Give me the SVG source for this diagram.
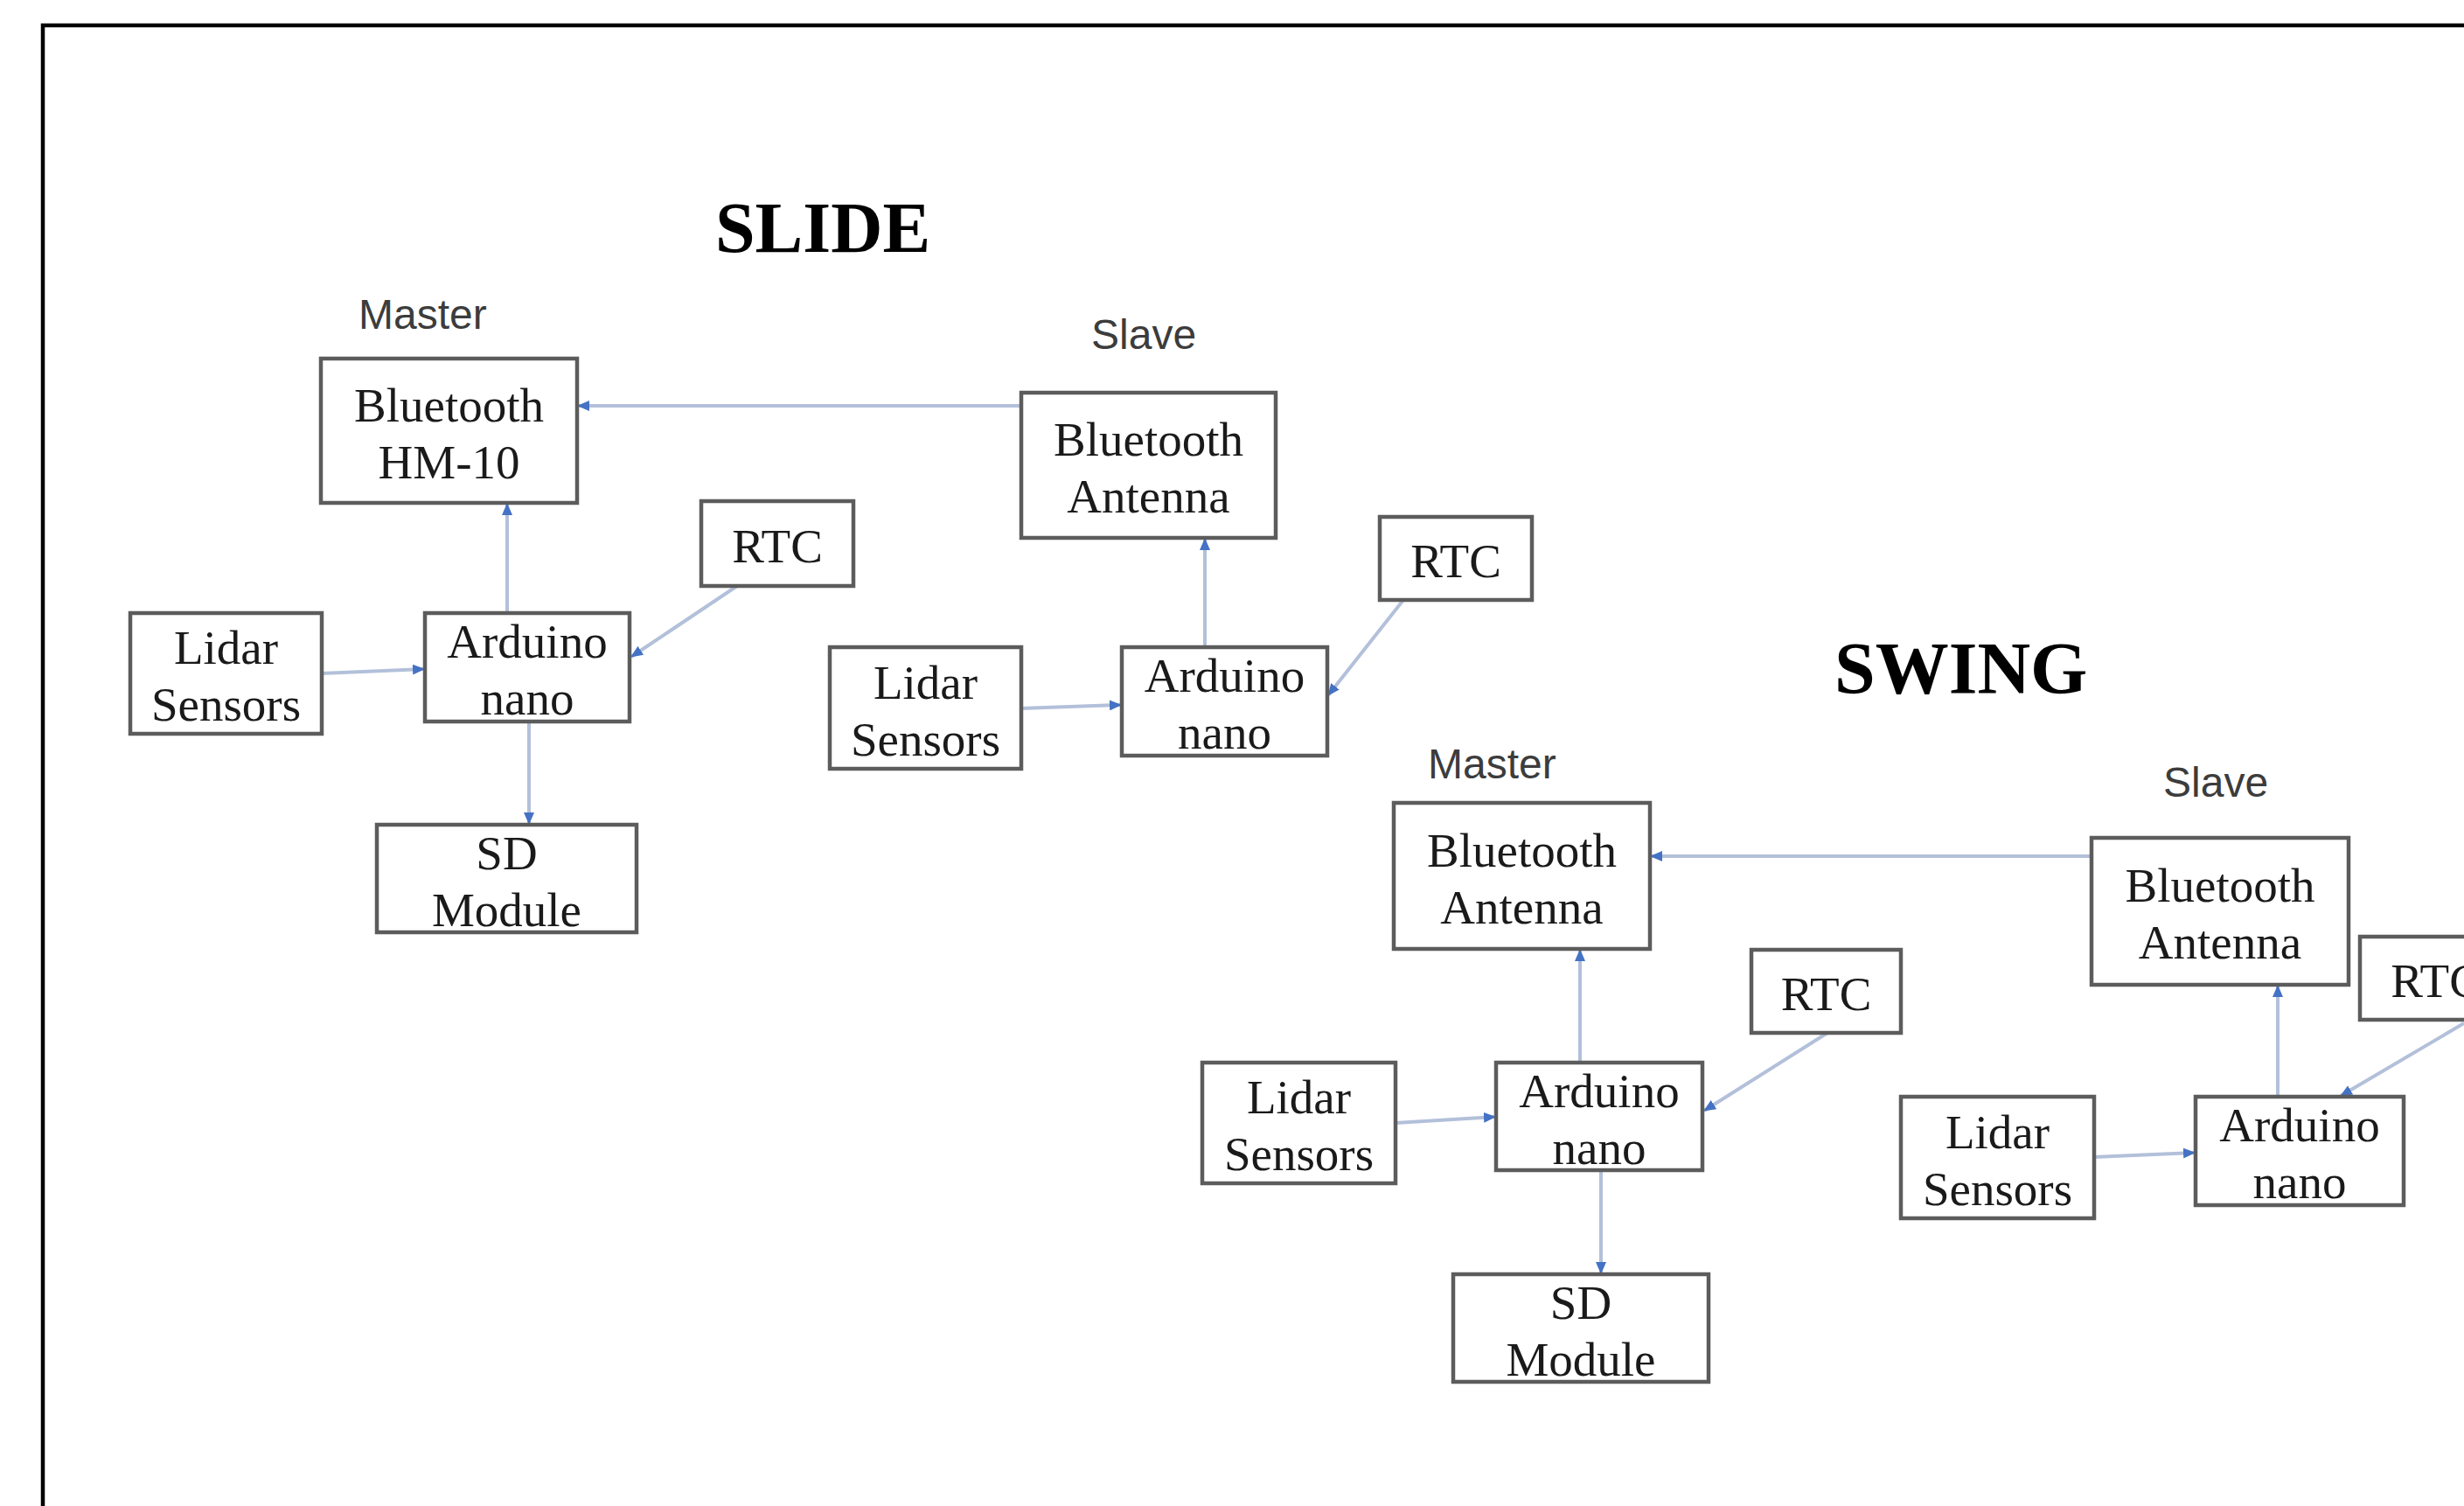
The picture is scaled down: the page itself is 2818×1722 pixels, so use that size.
<svg xmlns="http://www.w3.org/2000/svg" width="2818" height="1722" viewBox="0 0 2818 1722">
<style>
.box{fill:#ffffff;stroke:#5c5c5c;stroke-width:4.5}
.t{font-family:"Liberation Serif","Times New Roman",serif;font-size:55px;fill:#1a1a1a;text-anchor:middle}
.lbl{font-family:"Liberation Sans",Arial,sans-serif;font-size:48px;fill:#3c3c3c}
.title{font-family:"Liberation Serif","Times New Roman",serif;font-weight:bold;fill:#000}
.c{fill:none;stroke:#b3c0da;stroke-width:4;marker-end:url(#arr)}
</style>
<defs>
<marker id="arr" markerWidth="14" markerHeight="12" refX="13" refY="6" orient="auto" markerUnits="userSpaceOnUse">
<path d="M0,0 L14,6 L0,12 z" fill="#4472c4"/>
</marker>
</defs>
<rect x="0" y="0" width="2818" height="1722" fill="#ffffff"/>
<path d="M49,1722 L49,29 L2818,29" fill="none" stroke="#000" stroke-width="4.5"/>

<text class="title" x="818" y="288" font-size="82">SLIDE</text>
<text class="title" x="2098" y="793" font-size="84">SWING</text>
<text class="lbl" x="410" y="376">Master</text>
<text class="lbl" x="1248" y="399">Slave</text>
<text class="lbl" x="1633" y="890">Master</text>
<text class="lbl" x="2474" y="911">Slave</text>

<g id="connectors">
<path class="c" d="M1168,464 L661,464"/>
<path class="c" d="M580,701 L580,576"/>
<path class="c" d="M368,770 L485,765"/>
<path class="c" d="M843,670 L722,751"/>
<path class="c" d="M605,825 L605,942"/>
<path class="c" d="M1378,740 L1378,616"/>
<path class="c" d="M1168,810 L1282,806"/>
<path class="c" d="M1605,686 L1519,795"/>
<path class="c" d="M2392,979 L1888,979"/>
<path class="c" d="M1807,1215 L1807,1086"/>
<path class="c" d="M1596,1284 L1710,1277"/>
<path class="c" d="M2090,1181 L1949,1270"/>
<path class="c" d="M1831,1338 L1831,1456"/>
<path class="c" d="M2605,1254 L2605,1127"/>
<path class="c" d="M2395,1323 L2510,1318"/>
<path class="c" d="M2818,1170 L2677,1253"/>
</g>

<g id="slide_master_bt"><rect class="box" x="367" y="410" width="293" height="165"/><text class="t" x="513.5" y="481.5">Bluetooth</text><text class="t" x="513.5" y="546.5">HM-10</text></g>
<g id="slide_slave_bt"><rect class="box" x="1168" y="449" width="291" height="166"/><text class="t" x="1313.5" y="521">Bluetooth</text><text class="t" x="1313.5" y="586">Antenna</text></g>
<g id="slide_master_rtc"><rect class="box" x="802" y="573" width="174" height="97"/><text class="t" x="889" y="643">RTC</text></g>
<g id="slide_slave_rtc"><rect class="box" x="1578" y="591" width="174" height="95"/><text class="t" x="1665" y="660">RTC</text></g>
<g id="slide_master_lidar"><rect class="box" x="149" y="701" width="219" height="138"/><text class="t" x="258.5" y="759">Lidar</text><text class="t" x="258.5" y="824">Sensors</text></g>
<g id="slide_master_arduino"><rect class="box" x="486" y="701" width="234" height="124"/><text class="t" x="603" y="752">Arduino</text><text class="t" x="603" y="817">nano</text></g>
<g id="slide_slave_lidar"><rect class="box" x="949" y="740" width="219" height="139"/><text class="t" x="1058.5" y="798.5">Lidar</text><text class="t" x="1058.5" y="863.5">Sensors</text></g>
<g id="slide_slave_arduino"><rect class="box" x="1283" y="740" width="235" height="124"/><text class="t" x="1400.5" y="791">Arduino</text><text class="t" x="1400.5" y="856">nano</text></g>
<g id="slide_sd"><rect class="box" x="431" y="943" width="297" height="123"/><text class="t" x="579.5" y="993.5">SD</text><text class="t" x="579.5" y="1058.5">Module</text></g>

<g id="swing_master_bt"><rect class="box" x="1594" y="918" width="293" height="167"/><text class="t" x="1740.5" y="990.5">Bluetooth</text><text class="t" x="1740.5" y="1055.5">Antenna</text></g>
<g id="swing_slave_bt"><rect class="box" x="2392" y="958" width="294" height="168"/><text class="t" x="2539" y="1031">Bluetooth</text><text class="t" x="2539" y="1096">Antenna</text></g>
<g id="swing_master_rtc"><rect class="box" x="2003" y="1086" width="171" height="95"/><text class="t" x="2088.5" y="1155">RTC</text></g>
<g id="swing_slave_rtc"><rect class="box" x="2699" y="1071" width="174" height="95"/><text class="t" x="2786" y="1140">RTC</text></g>
<g id="swing_master_lidar"><rect class="box" x="1375" y="1215" width="221" height="138"/><text class="t" x="1485.5" y="1273">Lidar</text><text class="t" x="1485.5" y="1338">Sensors</text></g>
<g id="swing_master_arduino"><rect class="box" x="1711" y="1215" width="236" height="123"/><text class="t" x="1829" y="1265.5">Arduino</text><text class="t" x="1829" y="1330.5">nano</text></g>
<g id="swing_sd"><rect class="box" x="1662" y="1457" width="292" height="123"/><text class="t" x="1808" y="1507.5">SD</text><text class="t" x="1808" y="1572.5">Module</text></g>
<g id="swing_slave_lidar"><rect class="box" x="2174" y="1254" width="221" height="139"/><text class="t" x="2284.5" y="1312.5">Lidar</text><text class="t" x="2284.5" y="1377.5">Sensors</text></g>
<g id="swing_slave_arduino"><rect class="box" x="2511" y="1254" width="238" height="124"/><text class="t" x="2630" y="1305">Arduino</text><text class="t" x="2630" y="1370">nano</text></g>
</svg>
